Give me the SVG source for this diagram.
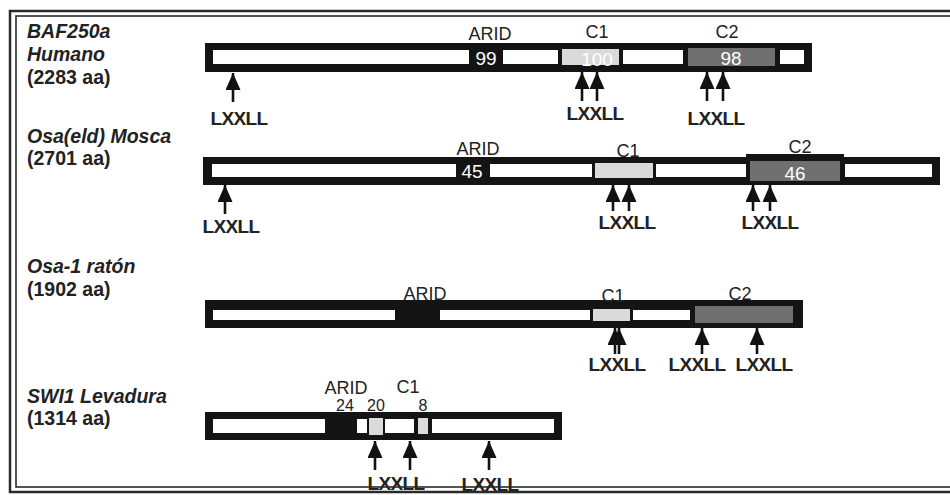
<svg xmlns="http://www.w3.org/2000/svg" width="950" height="495" viewBox="0 0 950 495">
<defs>
<marker id="ah" markerUnits="userSpaceOnUse" markerWidth="17" markerHeight="15" viewBox="0 0 17 15" refX="17" refY="7.5" orient="auto">
<path d="M0,0 L17,7.5 L0,15 Z" fill="#111"/>
</marker>
<style>
.lbl{font-family:"Liberation Sans",Arial,sans-serif;font-size:19.5px;font-weight:bold;fill:#222}
.it{font-style:italic}
.dom{font-family:"Liberation Sans",Arial,sans-serif;font-size:18px;fill:#222;text-anchor:middle}
.num{font-family:"Liberation Sans",Arial,sans-serif;font-size:19px;fill:#fff;text-anchor:middle}
.snum{font-family:"Liberation Sans",Arial,sans-serif;font-size:16px;fill:#222;text-anchor:middle}
.mot{font-family:"Liberation Sans",Arial,sans-serif;font-size:19px;font-weight:bold;fill:#222;text-anchor:middle;letter-spacing:-0.6px}
.bar{fill:#141414}
.w{fill:#fff}
.c1{fill:#dadada}
.c2{fill:#707070}
.arr{stroke:#111;stroke-width:2.6;fill:none;marker-end:url(#ah)}
.frame{fill:none;stroke:#2a2a2a}
</style>
</defs>
<rect width="950" height="495" fill="#fff"/>

<g id="baf250a">
<text class="lbl it" x="27" y="38">BAF250a</text>
<text class="lbl it" x="27" y="61">Humano</text>
<text class="lbl" x="27" y="84">(2283 aa)</text>
<rect class="bar" x="205" y="43" width="607" height="29"/>
<rect class="w" x="213" y="50" width="256" height="14"/>
<rect class="w" x="503" y="50" width="55" height="14"/>
<rect class="c1" x="562" y="49" width="57" height="16"/>
<rect class="w" x="623" y="50" width="60" height="14"/>
<rect class="c2" x="688" y="48" width="87" height="18"/>
<rect class="w" x="780" y="50" width="24" height="14"/>
<text class="dom" x="490" y="40">ARID</text>
<text class="dom" x="597" y="38">C1</text>
<text class="dom" x="727" y="38">C2</text>
<text class="num" x="486" y="65">99</text>
<text class="num" x="597" y="66" fill="#f2f2f2">100</text>
<text class="num" x="731" y="65">98</text>
</g>

<g id="osa-mosca">
<text class="lbl it" x="27" y="143">Osa(eld) Mosca</text>
<text class="lbl" x="27" y="165">(2701 aa)</text>
<rect class="bar" x="203" y="157" width="737" height="28"/>
<rect class="w" x="212" y="164" width="244" height="13"/>
<rect class="w" x="490" y="164" width="102" height="13"/>
<rect class="c1" x="595" y="163" width="58" height="15"/>
<rect class="w" x="656" y="164" width="90" height="13"/>
<rect class="bar" x="746" y="154" width="98" height="4"/>
<rect class="c2" x="750" y="161" width="90" height="20"/>
<rect class="w" x="845" y="164" width="87" height="13"/>
<text class="dom" x="478" y="155">ARID</text>
<text class="dom" x="628" y="157">C1</text>
<text class="dom" x="800" y="153">C2</text>
<text class="num" x="472" y="178">45</text>
<text class="num" x="795" y="180">46</text>
</g>

<g id="osa1-raton">
<text class="lbl it" x="27" y="273">Osa-1 ratón</text>
<text class="lbl" x="27" y="296">(1902 aa)</text>
<rect class="bar" x="205" y="300" width="598" height="28"/>
<rect class="w" x="213" y="310" width="182" height="10"/>
<rect class="w" x="440" y="310" width="150" height="10"/>
<rect class="c1" x="593" y="309" width="37" height="12"/>
<rect class="w" x="633" y="310" width="57" height="10"/>
<rect class="c2" x="695" y="306" width="98" height="17"/>
<text class="dom" x="425" y="300">ARID</text>
<text class="dom" x="613" y="302">C1</text>
<text class="dom" x="740" y="300">C2</text>
</g>

<g id="swi1-levadura">
<text class="lbl it" x="27" y="403">SWI1 Levadura</text>
<text class="lbl" x="27" y="425">(1314 aa)</text>
<rect class="bar" x="205" y="412" width="357" height="28"/>
<rect class="w" x="213" y="419" width="112" height="14"/>
<rect class="w" x="357" y="419" width="10" height="14"/>
<rect class="c1" x="369" y="418" width="14" height="17" fill="#c8c8c8"/>
<rect class="w" x="385" y="419" width="29" height="14"/>
<rect class="c1" x="418" y="418" width="10" height="16" fill="#bdbdbd"/>
<rect class="w" x="432" y="419" width="122" height="14"/>
<text class="dom" x="346" y="394">ARID</text>
<text class="dom" x="408" y="393">C1</text>
<text class="snum" x="345" y="411">24</text>
<text class="snum" x="376" y="411">20</text>
<text class="snum" x="423" y="411">8</text>
</g>

<g id="connectors">
<line class="arr" x1="233" y1="102" x2="233" y2="73"/>
<line class="arr" x1="582" y1="101" x2="582" y2="72"/>
<line class="arr" x1="597" y1="101" x2="597" y2="72"/>
<line class="arr" x1="707" y1="101" x2="707" y2="72"/>
<line class="arr" x1="723" y1="101" x2="723" y2="72"/>
<line class="arr" x1="225" y1="214" x2="225" y2="185"/>
<line class="arr" x1="613" y1="211" x2="613" y2="185"/>
<line class="arr" x1="629" y1="211" x2="629" y2="185"/>
<line class="arr" x1="753" y1="211" x2="753" y2="185"/>
<line class="arr" x1="770" y1="211" x2="770" y2="185"/>
<line class="arr" x1="615" y1="354" x2="615" y2="328"/>
<line class="arr" x1="619" y1="354" x2="619" y2="328"/>
<line class="arr" x1="702" y1="354" x2="702" y2="328"/>
<line class="arr" x1="757" y1="354" x2="757" y2="328"/>
<line class="arr" x1="375" y1="470" x2="375" y2="441"/>
<line class="arr" x1="410" y1="470" x2="410" y2="441"/>
<line class="arr" x1="489" y1="470" x2="489" y2="441"/>
<text class="mot" x="239" y="125">LXXLL</text>
<text class="mot" x="595" y="120">LXXLL</text>
<text class="mot" x="716" y="125">LXXLL</text>
<text class="mot" x="231" y="233">LXXLL</text>
<text class="mot" x="627" y="229">LXXLL</text>
<text class="mot" x="770" y="229">LXXLL</text>
<text class="mot" x="617" y="371">LXXLL</text>
<text class="mot" x="697" y="371">LXXLL</text>
<text class="mot" x="764" y="371">LXXLL</text>
<text class="mot" x="396" y="490">LXXLL</text>
<text class="mot" x="490" y="491">LXXLL</text>
</g>

<g id="frame">
<rect class="frame" x="10" y="11" width="960" height="481" stroke-width="2.5"/>
<rect class="frame" x="16" y="16" width="950" height="471" stroke-width="1.6"/>
</g>
</svg>
